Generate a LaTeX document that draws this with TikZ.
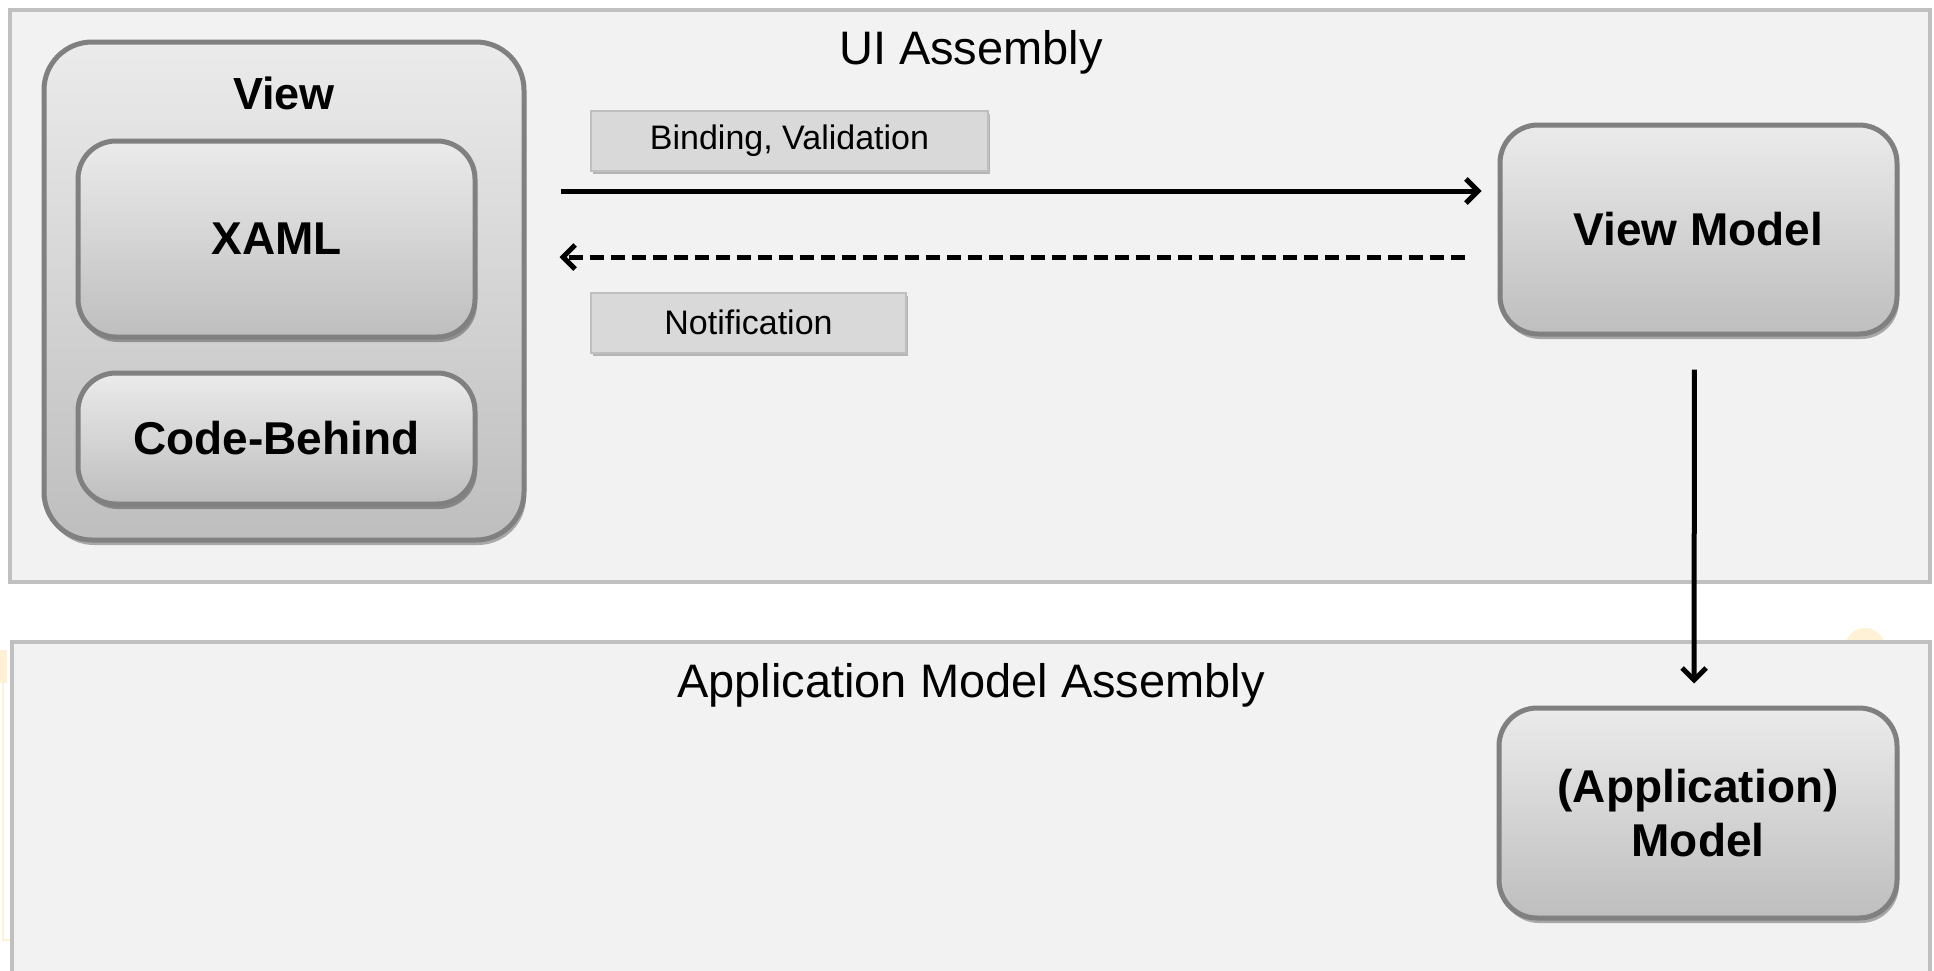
\documentclass[tikz,border=0pt]{standalone}
\usepackage{fontspec}
\setmainfont{Liberation Sans}
\usetikzlibrary{arrows.meta,shadows}
\definecolor{panelfill}{HTML}{F2F2F2}
\definecolor{panelline}{HTML}{C0C0C0}
\definecolor{boxline}{HTML}{808080}
\definecolor{boxtop}{HTML}{EBEBEB}
\definecolor{boxbot}{HTML}{BEBEBE}
\definecolor{tagfill}{HTML}{D9D9D9}
\definecolor{tagline}{HTML}{BFBFBF}
\definecolor{glow}{HTML}{FFF1D6}
\tikzset{
  panel/.style={draw=panelline, line width=2pt, fill=panelfill},
  comp/.style={draw=boxline, line width=2.5pt, rounded corners=19pt,
    top color=boxtop, bottom color=boxbot, align=center, inner sep=0pt,
    font=\bfseries\fontsize{23}{27}\selectfont,
    drop shadow={shadow xshift=1pt, shadow yshift=-2.5pt, opacity=0.3, fill=black}},
  tag/.style={draw=tagline, line width=1pt, fill=tagfill, inner sep=0pt,
    minimum height=30pt, font=\fontsize{17}{20}\selectfont,
    drop shadow={shadow xshift=0.8pt, shadow yshift=-1.5pt, opacity=0.25, fill=black}},
  title/.style={font=\fontsize{23.5}{28}\selectfont, inner sep=0pt, anchor=base},
  arr/.style={line width=2.5pt, -{Straight Barb[length=6pt, width=12pt, line width=2.5pt]}},
}
\begin{document}
\begin{tikzpicture}[x=0.5pt, y=-0.5pt]
\useasboundingbox (0,0) rectangle (1934,970);
\fill[white] (0,0) rectangle (1934,970);

% faint background marks
\fill[glow] (1865,648) circle (20);
\fill[glow] (0,650) rectangle (7,683);
\draw[glow, line width=1pt] (3,683) -- (3,940) -- (12,940);

% assembly panels
\draw[panel] (10,10) rectangle (1930,582);
\draw[panel] (12,642) rectangle (1930,976);
\node[title] (uiasm) at (971,64) {UI Assembly};
\node[title] (appasm) at (971,697) {Application Model Assembly};

% view with its two parts
\node[comp, rounded corners=24pt, minimum width=240pt, minimum height=249pt] (view) at (284,291) {};
\node[font=\bfseries\fontsize{22.5}{27}\selectfont, inner sep=0pt] (viewlbl) at (284,93) {View};
\node[comp, minimum width=198.5pt, minimum height=98pt] (xaml) at (276.5,239) {XAML};
\node[comp, minimum width=198.5pt, minimum height=65.5pt] (code) at (276.5,438.5) {Code-Behind};

% view model and application model
\node[comp, minimum width=198.5pt, minimum height=104.5pt] (vm) at (1698.5,229.5) {View Model};
\node[comp, minimum width=199pt, minimum height=105pt] (am) at (1698,813) {(Application)\\Model};

% labels of the connectors
\node[tag, minimum width=198.5pt] (bind) at (789.5,141) {Binding, Validation};
\node[tag, minimum width=157.5pt] (notif) at (748.5,322.5) {Notification};

% connectors
\coordinate (fwdy) at (0,191);
\coordinate (backy) at (0,257);
\draw[arr, shorten <=17pt, shorten >=8pt] (view.east |- fwdy) -- (vm.west |- fwdy);
\draw[arr, dash pattern=on 7pt off 3.5pt, shorten <=16.5pt, shorten >=16.5pt] (vm.west |- backy) -- (view.east |- backy);
\draw[arr, shorten <=16.5pt, shorten >=11pt] ([xshift=-2pt]vm.south) -- ([xshift=-2pt]am.north);
\end{tikzpicture}
\end{document}
